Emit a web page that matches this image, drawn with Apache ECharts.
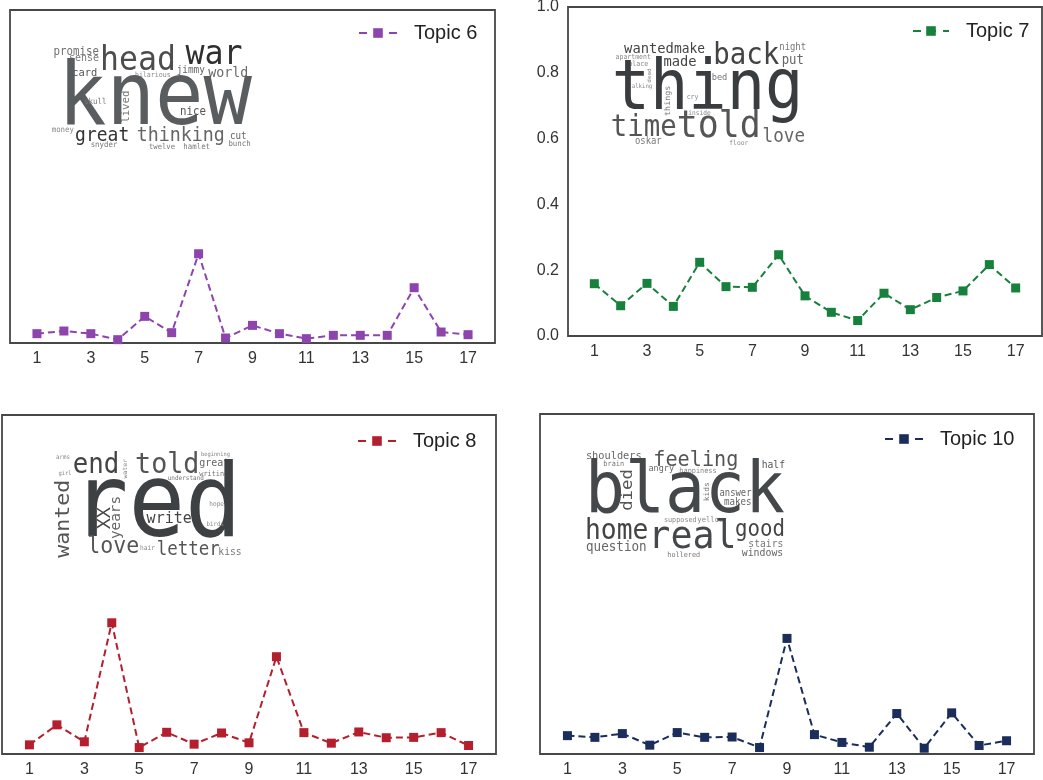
<!DOCTYPE html>
<html>
<head>
<meta charset="utf-8">
<script src="https://cdn.jsdelivr.net/npm/echarts@6/dist/echarts.min.js"></script>
<style>
  html, body { margin: 0; padding: 0; background: #fff; }
  #chart { width: 1043px; height: 780px; }
</style>
</head>
<body>
<div id="chart"></div>
<script>
// ---------------- data ----------------
const xValues = [1, 2, 3, 4, 5, 6, 7, 8, 9, 10, 11, 12, 13, 14, 15, 16, 17];
const xTickLabels = [1, 3, 5, 7, 9, 11, 13, 15, 17];
const yTickLabels = ['0.0', '0.2', '0.4', '0.6', '0.8', '1.0'];
const seriesNames = ['Topic 6', 'Topic 7', 'Topic 8', 'Topic 10'];
const topic6 = [0.028, 0.036, 0.028, 0.010, 0.080, 0.031, 0.268, 0.015, 0.053, 0.028, 0.013, 0.023, 0.023, 0.023, 0.166, 0.033, 0.025];
const topic7 = [0.159, 0.092, 0.160, 0.090, 0.224, 0.150, 0.148, 0.247, 0.122, 0.072, 0.047, 0.130, 0.080, 0.117, 0.137, 0.217, 0.146];
const topic8 = [0.027, 0.086, 0.036, 0.387, 0.019, 0.064, 0.029, 0.062, 0.033, 0.287, 0.063, 0.032, 0.065, 0.048, 0.049, 0.063, 0.025];
const topic10 = [0.054, 0.049, 0.060, 0.026, 0.063, 0.049, 0.050, 0.019, 0.340, 0.057, 0.034, 0.020, 0.119, 0.017, 0.121, 0.025, 0.039];
const allValues = [topic6, topic7, topic8, topic10];

// ---------------- layout & style ----------------
const colors = ['#8e44ad', '#17803d', '#b41f2e', '#1b2d5b'];
const grids = [
  { left: 10, top: 10, right: 548, bottom: 437 },
  { left: 568, top: 7, right: 1, bottom: 444 },
  { left: 2, top: 415, right: 547, bottom: 26 },
  { left: 540, top: 414, right: 9, bottom: 26 }
];
const legendPos = [
  { left: 358, top: 23, w: 38 },
  { left: 912, top: 21, w: 36 },
  { left: 357, top: 431, w: 38 },
  { left: 884, top: 429, w: 38 }
];
const showYLabels = [false, true, false, false];

// word clouds (decorative text): [word, centerX, baseline (or centerY if vertical), fontSize, color, vertical]
const clouds = [
  { oy: 45, words: [
    ['promise', 76.2, 55.5, 10.8, '#707070'], ['sense', 84, 61.5, 10.0, '#7a7a7a'],
    ['head', 138, 71.7, 31.5, '#4d4d4d'], ['war', 214, 65, 31.6, '#2f2f2f'],
    ['card', 84.8, 76.7, 10.4, '#555'], ['hilarious', 152.8, 77.7, 6.6, '#8a8a8a'],
    ['jimmy', 190.8, 73.5, 9.4, '#666'], ['world', 228.3, 77.3, 13.3, '#6a6a6a'],
    ['knew', 155, 127.7, 80.5, '#5a5d60'], ['skull', 95.3, 104, 7.5, '#777'],
    ['lived', 126.7, 106.7, 9.9, '#777', 1], ['nice', 193, 115.3, 10.8, '#555'],
    ['money', 62.8, 132.3, 7.4, '#888'], ['great', 102.2, 141.3, 18, '#333'],
    ['thinking', 180.8, 141.7, 18.3, '#666'], ['cut', 238.3, 139.3, 9.2, '#666'],
    ['bunch', 239.5, 146.7, 7.4, '#777'], ['snyder', 104, 147.3, 7.4, '#777'],
    ['twelve', 162, 149, 7.2, '#777'], ['hamlet', 196.7, 149.7, 7.4, '#777']
  ]},
  { oy: 45, words: [
    ['wanted', 649, 54, 13.8, '#444'], ['make', 689.5, 54, 12.9, '#444'],
    ['apartment', 633.2, 59, 6.5, '#888'], ['place', 638.3, 66.7, 6.6, '#888'],
    ['dead', 650, 75.5, 5.5, '#888', 1], ['talking', 640.3, 88.3, 5.7, '#888'],
    ['made', 680, 66.7, 13.8, '#444'], ['back', 746.3, 65, 27.4, '#444'],
    ['night', 792.7, 50, 8.9, '#777'], ['put', 792.8, 64, 12.3, '#666'],
    ['bed', 719.5, 80, 8.7, '#777'], ['thing', 707.5, 111.7, 63.7, '#3a3d40'],
    ['things', 667.5, 100.8, 7.8, '#777', 1], ['cry', 692.5, 99.3, 6.5, '#888'],
    ['inside', 699.5, 115, 6.2, '#888'], ['time', 643.7, 137.3, 27.4, '#555'],
    ['told', 718.7, 138.3, 34.9, '#555'], ['love', 783.8, 142.7, 17.6, '#666'],
    ['oskar', 648.3, 144.3, 8.9, '#777'], ['floor', 738.8, 145.7, 6.3, '#888']
  ]},
  { oy: 455, words: [
    ['arms', 63, 459, 5.8, '#888'], ['end', 96, 474, 25.8, '#444'],
    ['water', 125, 468.7, 6.1, '#888', 1], ['told', 167.2, 474, 26.7, '#555'],
    ['beginning', 215.5, 456.7, 5.4, '#888'], ['great', 214.3, 466.7, 10, '#666'],
    ['writing', 213.8, 476, 6.9, '#777'], ['understand', 185.8, 480, 6.0, '#777'],
    ['girl', 65, 475, 5.5, '#888'], ['red', 156.7, 540, 94, '#3e4144'],
    ['wanted', 63.3, 518.8, 20, '#555', 1], ['XX', 106, 518.3, 17, '#444', 1],
    ['years', 116.7, 517.5, 13.3, '#666', 1], ['hope', 216.7, 506.7, 6.1, '#888'],
    ['write', 169.2, 524, 15, '#444'], ['birds', 215.3, 526, 5.8, '#888'],
    ['love', 113.3, 554, 21.6, '#555'], ['hair', 147.5, 550, 6.2, '#888'],
    ['letter', 188.3, 556, 17.5, '#555'], ['kiss', 230, 555.3, 9.7, '#777']
  ]},
  { oy: 455, words: [
    ['shoulders', 613.8, 459.3, 10.3, '#666'], ['brain', 613.7, 466, 6.9, '#777'],
    ['feeling', 695.8, 466.7, 20.2, '#555'], ['half', 773.3, 468.3, 9.7, '#555'],
    ['angry', 661.2, 471.7, 8.5, '#666'], ['happiness', 698, 473.3, 6.9, '#888'],
    ['black', 685, 515, 66.4, '#45484b'], ['died', 628.3, 490, 16, '#555', 1],
    ['kids', 706.7, 491.7, 7.4, '#777', 1], ['answer', 735.5, 496.7, 8.9, '#666'],
    ['makes', 737.8, 505, 9.2, '#666'], ['supposed', 680.3, 522.7, 6.8, '#888'],
    ['yellow', 710.3, 522.7, 7.2, '#888'], ['home', 616.7, 540, 26.3, '#444'],
    ['real', 692.5, 549.3, 36.7, '#45484b'], ['good', 760, 537.3, 20.8, '#444'],
    ['question', 616.3, 551.7, 12.6, '#666'], ['stairs', 765.8, 547.3, 9.7, '#777'],
    ['windows', 762.5, 556, 9.9, '#666'], ['hollered', 683.7, 557.3, 6.8, '#777']
  ]}
];
const stretchY = 1.08;

function cloudGroup(c) {
  return {
    type: 'group', x: 0, y: c.oy, scaleY: stretchY, silent: true,
    children: c.words.map(([t, cx, yy, fs, col, v]) => ({
      type: 'text',
      x: cx,
      y: v ? (yy - c.oy) / stretchY : (yy - c.oy) / stretchY - 0.297 * fs,
      rotation: v ? Math.PI / 2 : 0,
      style: {
        text: t, fill: col,
        font: fs + 'px "DejaVu Sans Mono"',
        align: 'center', verticalAlign: 'middle',
        textAlign: 'center', textVerticalAlign: 'middle'
      }
    }))
  };
}

const font = '"Liberation Sans", Arial, sans-serif';

const option = {
  animation: false,
  backgroundColor: '#fff',
  grid: grids.map(g => Object.assign({
    show: true, borderColor: '#474747', borderWidth: 1.8, backgroundColor: 'transparent',
    containLabel: false, outerBoundsMode: 'none'
  }, g)),
  xAxis: grids.map((g, i) => ({
    type: 'value', gridIndex: i, min: 0, max: 18, interval: 1,
    axisLine: { show: false }, axisTick: { show: false }, splitLine: { show: false },
    axisLabel: {
      fontSize: 16, color: '#333', fontFamily: font, margin: 8,
      formatter: v => (xTickLabels.indexOf(v) >= 0 ? String(v) : '')
    }
  })),
  yAxis: grids.map((g, i) => ({
    type: 'value', gridIndex: i, min: 0, max: 1, interval: 0.2,
    axisLine: { show: false }, axisTick: { show: false }, splitLine: { show: false },
    axisLabel: {
      show: showYLabels[i], fontSize: 16, color: '#333', fontFamily: font, margin: 9,
      formatter: v => yTickLabels[Math.round(v / 0.2)]
    }
  })),
  legend: legendPos.map((p, i) => ({
    data: [seriesNames[i]],
    left: p.left, top: p.top, padding: 0,
    itemWidth: p.w, itemHeight: 12,
    lineStyle: { type: [8, 7], width: 2 },
    textStyle: { fontSize: 20, color: '#222', fontFamily: font, padding: [0, 0, 0, 12] },
    selectedMode: false
  })),
  series: allValues.map((vals, i) => ({
    name: seriesNames[i], type: 'line',
    xAxisIndex: i, yAxisIndex: i,
    data: vals.map((v, k) => [xValues[k], v]),
    symbol: 'rect', symbolSize: 9,
    itemStyle: { color: colors[i] },
    lineStyle: { color: colors[i], width: 2, type: [7, 4] },
    z: 3
  })),
  graphic: clouds.map(cloudGroup)
};

const chart = echarts.init(document.getElementById('chart'), null, { renderer: 'canvas' });
chart.setOption(option);
</script>
</body>
</html>
